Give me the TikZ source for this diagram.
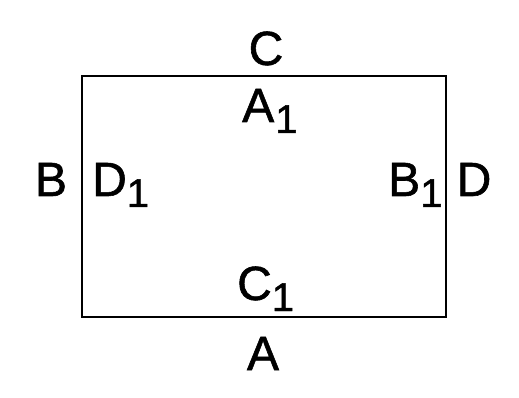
\documentclass[tikz,border=0pt]{standalone}
\usepackage{fontspec}
\setmainfont{Liberation Sans}[FakeBold=1.2]
\newcommand{\subone}{\raisebox{-11pt}{\fontsize{40}{42}\selectfont 1}}
\begin{document}
\begin{tikzpicture}[x=1pt,y=-1pt,
  lbl/.style={inner sep=0pt,font=\fontsize{48}{50}\selectfont},
  frame/.style={draw,line width=1.6pt}]
\useasboundingbox (0,0) rectangle (519,398);
\coordinate (nw) at (82,76);
\coordinate (se) at (446,317);
\draw[frame] (nw) rectangle (se);
\node[lbl,anchor=base] (C) at (266,65) {C};
\node[lbl,anchor=base west] (A1) at (242,122) {A\kern1pt\subone};
\node[lbl,anchor=base] (B) at (51,196) {B};
\node[lbl,anchor=base west] (D1) at (92,196) {D\kern0pt\subone};
\node[lbl,anchor=base west] (B1) at (388,196) {B\kern0pt\subone};
\node[lbl,anchor=base] (D) at (474,196) {D};
\node[lbl,anchor=base west] (C1) at (237,300) {C\kern0pt\subone};
\node[lbl,anchor=base] (A) at (263,370) {A};
\end{tikzpicture}
\end{document}
